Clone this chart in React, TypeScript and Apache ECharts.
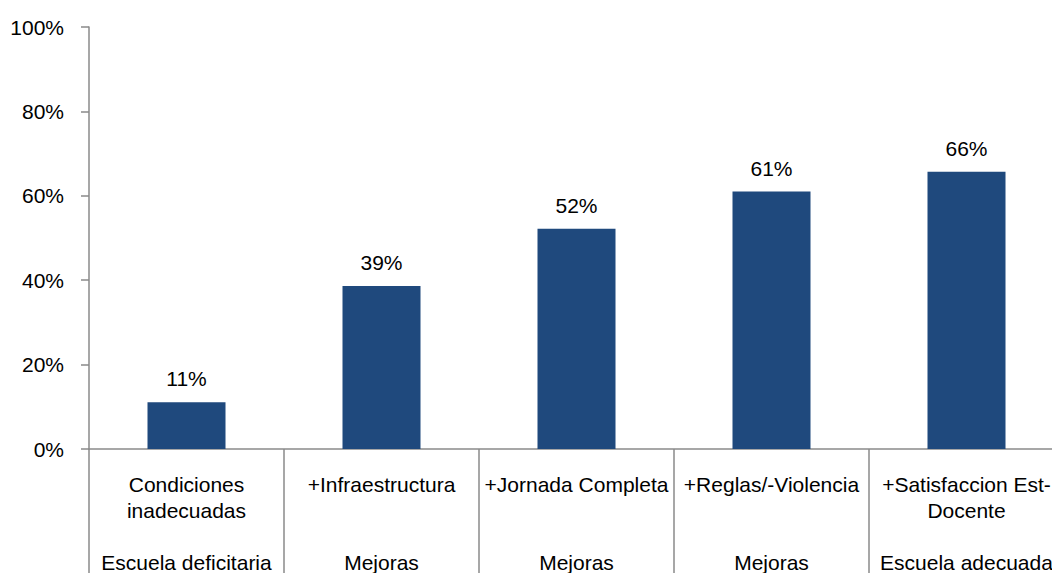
import React, { useEffect, useRef } from "react";
import * as echarts from "echarts";

const categories = [
  "Condiciones\ninadecuadas",
  "+Infraestructura",
  "+Jornada Completa",
  "+Reglas/-Violencia",
  "+Satisfaccion Est-\nDocente",
];
const groups = ["Escuela deficitaria", "Mejoras", "Mejoras", "Mejoras", "Escuela adecuada"];
const values = [11.1, 38.6, 52.2, 61.0, 65.7];
const yTicks = { min: 0, max: 100, interval: 20 };

const FONT = "'Liberation Sans', Arial, sans-serif";
const AXIS_COLOR = "#8a8a8a";

export default function App() {
  const ref = useRef<HTMLDivElement>(null);
  useEffect(() => {
    document.body.style.margin = "0";
    const chart = echarts.init(ref.current!, null, { renderer: "svg" });
    chart.setOption({
      animation: false,
      backgroundColor: "#ffffff",
      textStyle: { fontFamily: FONT },
      grid: { left: 89, top: 27, width: 975, height: 422, outerBoundsMode: "none" },
      xAxis: [
        {
          type: "category",
          data: categories,
          position: "bottom",
          axisLine: { show: true, lineStyle: { color: AXIS_COLOR, width: 1.5 } },
          axisTick: {
            show: true,
            interval: 0,
            alignWithLabel: false,
            length: 130,
            lineStyle: { color: AXIS_COLOR, width: 1.5 },
          },
          axisLabel: {
            interval: 0,
            margin: 22,
            fontSize: 21,
            lineHeight: 26,
            color: "#000",
            fontFamily: FONT,
          },
        },
        {
          type: "category",
          data: groups,
          position: "bottom",
          offset: 0,
          axisLine: { show: false },
          axisTick: { show: false },
          axisLabel: {
            interval: 0,
            margin: 100,
            fontSize: 21,
            lineHeight: 26,
            color: "#000",
            fontFamily: FONT,
          },
        },
      ],
      yAxis: {
        type: "value",
        min: yTicks.min,
        max: yTicks.max,
        interval: yTicks.interval,
        axisLine: { show: true, lineStyle: { color: AXIS_COLOR, width: 1.5 } },
        axisTick: { show: true, inside: false, length: 8, lineStyle: { color: AXIS_COLOR, width: 1.5 } },
        splitLine: { show: false },
        axisLabel: {
          formatter: "{value}%",
          margin: 25,
          fontSize: 21,
          color: "#000",
          fontFamily: FONT,
        },
      },
      series: [
        {
          type: "bar",
          xAxisIndex: 0,
          data: values,
          barWidth: "40%",
          itemStyle: { color: "#1F497D" },
          label: {
            show: true,
            position: "top",
            distance: 13,
            fontSize: 21,
            color: "#000",
            fontFamily: FONT,
            formatter: (p: any) => Math.round(p.value) + "%",
          },
        },
      ],
    });
    return () => chart.dispose();
  }, []);
  return (
    <div
      ref={ref}
      style={{ position: "fixed", left: 0, top: 0, width: 1052, height: 573 }}
    />
  );
}
